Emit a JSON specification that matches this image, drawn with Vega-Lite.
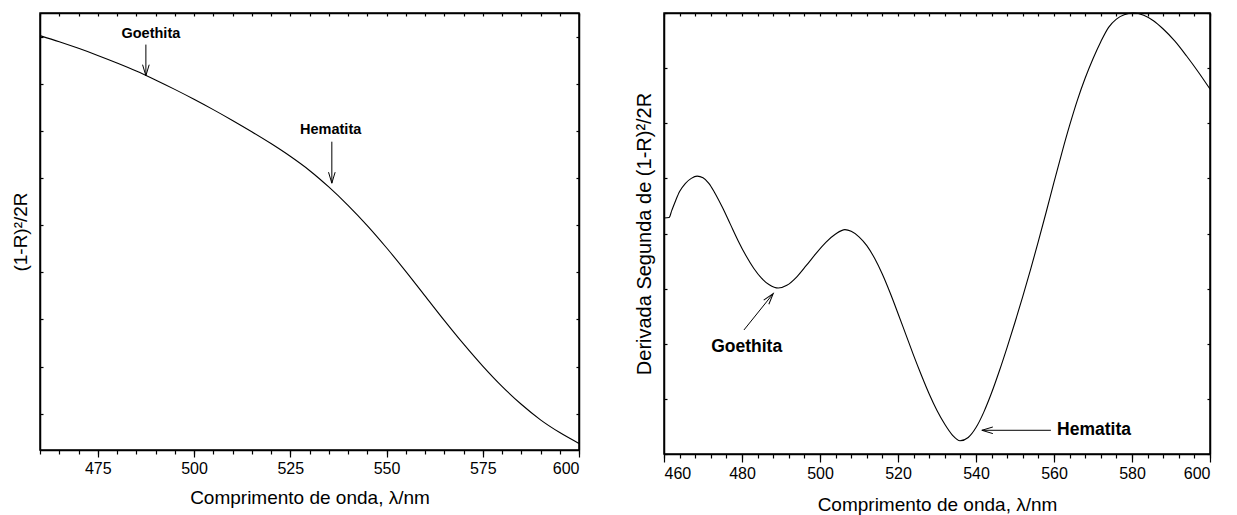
{
  "$schema": "https://vega.github.io/schema/vega-lite/v6.json",
  "padding": {"left": 10, "top": 10, "right": 5, "bottom": 5},
  "spacing": 51,
  "datasets": {
    "absorbance": [
      {"wavelength": 460, "value": 9.02}, {"wavelength": 465, "value": 8.89},
      {"wavelength": 470, "value": 8.75}, {"wavelength": 475, "value": 8.60},
      {"wavelength": 480, "value": 8.44}, {"wavelength": 485, "value": 8.27},
      {"wavelength": 490, "value": 8.08}, {"wavelength": 495, "value": 7.88},
      {"wavelength": 500, "value": 7.67}, {"wavelength": 505, "value": 7.45},
      {"wavelength": 510, "value": 7.22}, {"wavelength": 515, "value": 6.98},
      {"wavelength": 520, "value": 6.73}, {"wavelength": 525, "value": 6.46},
      {"wavelength": 530, "value": 6.16}, {"wavelength": 535, "value": 5.81},
      {"wavelength": 540, "value": 5.42}, {"wavelength": 545, "value": 4.99},
      {"wavelength": 550, "value": 4.52}, {"wavelength": 555, "value": 4.02},
      {"wavelength": 560, "value": 3.50}, {"wavelength": 565, "value": 2.98},
      {"wavelength": 570, "value": 2.48}, {"wavelength": 575, "value": 2.01},
      {"wavelength": 580, "value": 1.58}, {"wavelength": 585, "value": 1.20},
      {"wavelength": 590, "value": 0.87}, {"wavelength": 595, "value": 0.60},
      {"wavelength": 600, "value": 0.37}
    ],
    "second_derivative": [
      {"wavelength": 460, "value": 0.28}, {"wavelength": 461.3, "value": 0.29},
      {"wavelength": 462, "value": 0.42}, {"wavelength": 463, "value": 0.60},
      {"wavelength": 464, "value": 0.76}, {"wavelength": 465.5, "value": 0.91},
      {"wavelength": 467, "value": 1.00}, {"wavelength": 468.5, "value": 1.04},
      {"wavelength": 470, "value": 1.01}, {"wavelength": 471.5, "value": 0.91},
      {"wavelength": 473, "value": 0.74}, {"wavelength": 475, "value": 0.47},
      {"wavelength": 477, "value": 0.17}, {"wavelength": 479, "value": -0.13},
      {"wavelength": 481, "value": -0.40}, {"wavelength": 483, "value": -0.63},
      {"wavelength": 485, "value": -0.81}, {"wavelength": 487, "value": -0.93},
      {"wavelength": 489.3, "value": -0.99}, {"wavelength": 491.5, "value": -0.94},
      {"wavelength": 494, "value": -0.79}, {"wavelength": 496.5, "value": -0.58},
      {"wavelength": 499, "value": -0.36}, {"wavelength": 501.5, "value": -0.16},
      {"wavelength": 504, "value": -0.01}, {"wavelength": 506.4, "value": 0.07},
      {"wavelength": 508, "value": 0.04}, {"wavelength": 510, "value": -0.06},
      {"wavelength": 512, "value": -0.22}, {"wavelength": 514, "value": -0.45},
      {"wavelength": 516, "value": -0.74}, {"wavelength": 518, "value": -1.08},
      {"wavelength": 520, "value": -1.45}, {"wavelength": 522, "value": -1.83},
      {"wavelength": 524, "value": -2.21}, {"wavelength": 526, "value": -2.57},
      {"wavelength": 528, "value": -2.91}, {"wavelength": 530, "value": -3.21},
      {"wavelength": 532, "value": -3.46}, {"wavelength": 534, "value": -3.66},
      {"wavelength": 535.9, "value": -3.76}, {"wavelength": 538, "value": -3.70},
      {"wavelength": 540, "value": -3.52}, {"wavelength": 542, "value": -3.24},
      {"wavelength": 544, "value": -2.89}, {"wavelength": 546, "value": -2.49},
      {"wavelength": 548, "value": -2.06}, {"wavelength": 550, "value": -1.61},
      {"wavelength": 552, "value": -1.14}, {"wavelength": 554, "value": -0.65},
      {"wavelength": 556, "value": -0.14}, {"wavelength": 558, "value": 0.39},
      {"wavelength": 560, "value": 0.93}, {"wavelength": 562, "value": 1.46},
      {"wavelength": 564, "value": 1.96}, {"wavelength": 566, "value": 2.42},
      {"wavelength": 568, "value": 2.82}, {"wavelength": 570, "value": 3.17},
      {"wavelength": 572, "value": 3.48}, {"wavelength": 574, "value": 3.74},
      {"wavelength": 576, "value": 3.89}, {"wavelength": 578, "value": 3.97},
      {"wavelength": 580.3, "value": 4.00}, {"wavelength": 583, "value": 3.96},
      {"wavelength": 585.5, "value": 3.86}, {"wavelength": 588, "value": 3.71},
      {"wavelength": 591, "value": 3.49}, {"wavelength": 594, "value": 3.22},
      {"wavelength": 597, "value": 2.93}, {"wavelength": 600, "value": 2.62}
    ],
    "labels_left": [
      {"label": "Goethita", "x": 488.8, "y": 9.06},
      {"label": "Hematita", "x": 535.5, "y": 7.02}
    ],
    "arrows_left": [
      {"mineral": "Goethita", "x": 487.5, "y": 8.83, "x2": 487.5, "y2": 8.17},
      {"mineral": "Hematita", "x": 535.8, "y": 6.77, "x2": 535.8, "y2": 5.89}
    ],
    "labels_right": [
      {"label": "Goethita", "x": 481.2, "y": -2.06, "anchor": "center"},
      {"label": "Hematita", "x": 560.8, "y": -3.57, "anchor": "left"}
    ],
    "arrows_right": [
      {"mineral": "Goethita", "x": 480.5, "y": -1.75, "x2": 488.0, "y2": -1.09},
      {"mineral": "Hematita", "x": 559.2, "y": -3.57, "x2": 541.5, "y2": -3.57}
    ]
  },
  "hconcat": [
    {
      "width": 539,
      "height": 437,
      "resolve": {"axis": {"x": "independent", "y": "independent"}},
      "layer": [
        {
          "data": {"name": "absorbance"},
          "mark": {"type": "line", "color": "black", "strokeWidth": 1.1, "interpolate": "monotone"},
          "encoding": {
            "x": {
              "field": "wavelength", "type": "quantitative",
              "scale": {"domain": [460, 600], "nice": false, "zero": false},
              "axis": {"orient": "bottom", "values": [475, 500, 525, 550, 575, 600], "tickSize": 7, "labelPadding": 3, "title": "Comprimento de onda, λ/nm", "titlePadding": 12}
            },
            "y": {
              "field": "value", "type": "quantitative",
              "scale": {"domain": [0.23, 9.5], "nice": false, "zero": false},
              "axis": {"orient": "left", "values": [1, 2, 3, 4, 5, 6, 7, 8, 9], "tickSize": -3, "labels": false, "title": "(1-R)²/2R", "titlePadding": 9}
            }
          }
        },
        {
          "data": {"name": "arrows_left"},
          "mark": {"type": "rule", "color": "black", "strokeWidth": 1},
          "encoding": {
            "x": {"field": "x", "type": "quantitative", "axis": {"orient": "bottom", "values": [460, 465, 470, 475, 480, 485, 490, 495, 500, 505, 510, 515, 520, 525, 530, 535, 540, 545, 550, 555, 560, 565, 570, 575, 580, 585, 590, 595, 600], "tickSize": 4, "labels": false, "domain": false, "title": null}},
            "y": {"field": "y", "type": "quantitative", "axis": {"orient": "right", "values": [1, 2, 3, 4, 5, 6, 7, 8, 9], "tickSize": -3, "labels": false, "title": null}},
            "x2": {"field": "x2"},
            "y2": {"field": "y2"}
          }
        },
        {
          "data": {"name": "arrows_left"},
          "mark": {"type": "point", "shape": "M-0.3,-1L0,0L0.3,-1", "size": 484, "filled": false, "color": "black", "strokeWidth": 1, "opacity": 1, "angle": 0},
          "encoding": {
            "x": {"field": "x2", "type": "quantitative", "axis": {"orient": "top", "values": [460, 465, 470, 475, 480, 485, 490, 495, 500, 505, 510, 515, 520, 525, 530, 535, 540, 545, 550, 555, 560, 565, 570, 575, 580, 585, 590, 595, 600], "tickSize": -3, "labels": false, "title": null}},
            "y": {"field": "y2", "type": "quantitative", "axis": null}
          }
        },
        {
          "data": {"name": "labels_left"},
          "mark": {"type": "text", "font": "Liberation Sans", "fontWeight": "bold", "fontSize": 14.5, "color": "black", "baseline": "middle"},
          "encoding": {
            "x": {"field": "x", "type": "quantitative", "axis": null},
            "y": {"field": "y", "type": "quantitative", "axis": null},
            "text": {"field": "label"}
          }
        }
      ]
    },
    {
      "width": 546,
      "height": 441,
      "resolve": {"axis": {"x": "independent", "y": "independent"}},
      "layer": [
        {
          "data": {"name": "second_derivative"},
          "mark": {"type": "line", "color": "black", "strokeWidth": 1.1, "interpolate": "monotone"},
          "encoding": {
            "x": {
              "field": "wavelength", "type": "quantitative",
              "scale": {"domain": [460, 600], "nice": false, "zero": false},
              "axis": {"orient": "bottom", "values": [460, 480, 500, 520, 540, 560, 580, 600], "tickSize": 8, "labelPadding": 3, "title": "Comprimento de onda, λ/nm", "titlePadding": 14}
            },
            "y": {
              "field": "value", "type": "quantitative",
              "scale": {"domain": [-4, 4], "nice": false, "zero": false},
              "axis": {"orient": "left", "values": [-4, -3, -2, -1, 0, 1, 2, 3, 4], "tickSize": -3, "labels": false, "title": "Derivada Segunda de (1-R)²/2R", "titlePadding": 9, "titleFontSize": 20}
            }
          }
        },
        {
          "data": {"name": "arrows_right"},
          "mark": {"type": "rule", "color": "black", "strokeWidth": 1},
          "encoding": {
            "x": {"field": "x", "type": "quantitative", "axis": {"orient": "bottom", "values": [460, 464, 468, 472, 476, 480, 484, 488, 492, 496, 500, 504, 508, 512, 516, 520, 524, 528, 532, 536, 540, 544, 548, 552, 556, 560, 564, 568, 572, 576, 580, 584, 588, 592, 596, 600], "tickSize": 4, "labels": false, "domain": false, "title": null}},
            "y": {"field": "y", "type": "quantitative", "axis": {"orient": "right", "values": [-4, -3, -2, -1, 0, 1, 2, 3, 4], "tickSize": -3, "labels": false, "title": null}},
            "x2": {"field": "x2"},
            "y2": {"field": "y2"}
          }
        },
        {
          "data": {"name": "arrows_right"},
          "transform": [{"filter": "datum.mineral === 'Goethita'"}],
          "mark": {"type": "point", "shape": "M-0.3,-1L0,0L0.3,-1", "size": 484, "filled": false, "color": "black", "strokeWidth": 1, "opacity": 1, "angle": 219},
          "encoding": {
            "x": {"field": "x2", "type": "quantitative", "axis": {"orient": "top", "values": [460, 464, 468, 472, 476, 480, 484, 488, 492, 496, 500, 504, 508, 512, 516, 520, 524, 528, 532, 536, 540, 544, 548, 552, 556, 560, 564, 568, 572, 576, 580, 584, 588, 592, 596, 600], "tickSize": -3, "labels": false, "title": null}},
            "y": {"field": "y2", "type": "quantitative", "axis": null}
          }
        },
        {
          "data": {"name": "arrows_right"},
          "transform": [{"filter": "datum.mineral === 'Hematita'"}],
          "mark": {"type": "point", "shape": "M-0.3,-1L0,0L0.3,-1", "size": 484, "filled": false, "color": "black", "strokeWidth": 1, "opacity": 1, "angle": 90},
          "encoding": {
            "x": {"field": "x2", "type": "quantitative", "axis": null},
            "y": {"field": "y2", "type": "quantitative", "axis": null}
          }
        },
        {
          "data": {"name": "labels_right"},
          "transform": [{"filter": "datum.anchor === 'center'"}],
          "mark": {"type": "text", "font": "Liberation Sans", "fontWeight": "bold", "fontSize": 17.5, "color": "black", "baseline": "middle", "align": "center"},
          "encoding": {
            "x": {"field": "x", "type": "quantitative", "axis": null},
            "y": {"field": "y", "type": "quantitative", "axis": null},
            "text": {"field": "label"}
          }
        },
        {
          "data": {"name": "labels_right"},
          "transform": [{"filter": "datum.anchor === 'left'"}],
          "mark": {"type": "text", "font": "Liberation Sans", "fontWeight": "bold", "fontSize": 17.5, "color": "black", "baseline": "middle", "align": "left"},
          "encoding": {
            "x": {"field": "x", "type": "quantitative", "axis": null},
            "y": {"field": "y", "type": "quantitative", "axis": null},
            "text": {"field": "label"}
          }
        }
      ]
    }
  ],
  "config": {
    "background": "white",
    "view": {"stroke": "black", "strokeWidth": 1.5},
    "axis": {
      "grid": false,
      "domainColor": "black",
      "domainWidth": 1.5,
      "tickColor": "black",
      "tickWidth": 1.2,
      "labelFont": "Liberation Sans",
      "labelFontSize": 16,
      "labelColor": "black",
      "titleFont": "Liberation Sans",
      "titleFontSize": 19,
      "titleFontWeight": "normal",
      "titleColor": "black"
    }
  }
}
